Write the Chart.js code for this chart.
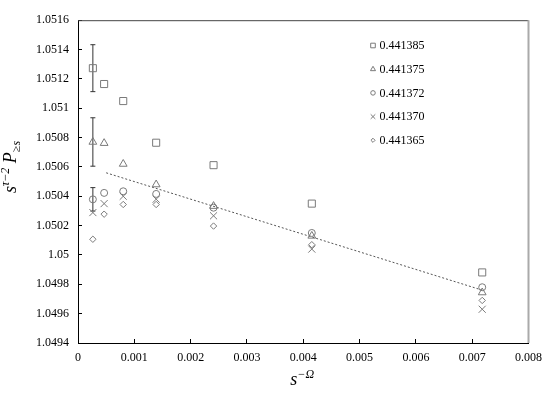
<!DOCTYPE html>
<html>
<head>
<meta charset="utf-8">
<script src="https://cdn.jsdelivr.net/npm/chart.js@4.4.0/dist/chart.umd.min.js"></script>
<style>
  html, body { margin: 0; padding: 0; background: #fff; }
</style>
</head>
<body>
<canvas id="chart" width="554" height="399"></canvas>
<script>
// values
const xValues = [0.000264, 0.000464, 0.000803, 0.001388, 0.002407, 0.004152, 0.007178];
const seriesNames = ['0.441385', '0.441375', '0.441372', '0.441370', '0.441365'];
const sq385 = [1.051273, 1.051165, 1.051049, 1.050765, 1.050612, 1.05035, 1.049881];
const tri375 = [1.05077, 1.050762, 1.05062, 1.05048, 1.050333, 1.05013, 1.049744];
const circ372 = [1.050379, 1.050423, 1.050434, 1.050416, 1.050322, 1.05015, 1.04978];
const cross370 = [1.050289, 1.05035, 1.0504, 1.05038, 1.050267, 1.05004, 1.04963];
const dia365 = [1.050107, 1.050278, 1.050344, 1.050344, 1.050197, 1.05007, 1.04969];

// error bars on the first column (center, half width)
const errX = 0.000264;
const errCenters = [1.051273, 1.05077, 1.050379];
const errHalf = [0.00016, 0.000165, 0.00008];

// dotted fit line
const fitX = [0.0005, 0.00718];
const fitY = [1.05056, 1.04976];

const xTicks = [0, 0.001, 0.002, 0.003, 0.004, 0.005, 0.006, 0.007, 0.008];
const xTickLabels = ['0', '0.001', '0.002', '0.003', '0.004', '0.005', '0.006', '0.007', '0.008'];
const yTicks = [1.0494, 1.0496, 1.0498, 1.05, 1.0502, 1.0504, 1.0506, 1.0508, 1.051, 1.0512, 1.0514, 1.0516];
const yTickLabels = ['1.0494', '1.0496', '1.0498', '1.05', '1.0502', '1.0504', '1.0506', '1.0508', '1.051', '1.0512', '1.0514', '1.0516'];

const serif = 'Liberation Serif, DejaVu Serif, serif';
const markGray = '#7a7a7a';
const styles = [
    { pointStyle: 'rect', radius: 5 },
    { pointStyle: 'triangle', radius: 4.5 },
    { pointStyle: 'circle', radius: 3.5 },
    { pointStyle: 'crossRot', radius: 5 },
    { pointStyle: 'rectRot', radius: 3.2 }
];
const allSeries = [sq385, tri375, circ372, cross370, dia365];

const datasets = [];
allSeries.forEach(function (ys, i) {
    datasets.push({
        label: seriesNames[i],
        data: xValues.map(function (x, j) { return { x: x, y: ys[j] }; }),
        showLine: false,
        pointStyle: styles[i].pointStyle,
        pointRadius: styles[i].radius,
        pointBorderColor: markGray,
        pointBackgroundColor: 'rgba(0,0,0,0)',
        pointBorderWidth: 1
    });
});

datasets.push({
    label: 'fit',
    data: fitX.map(function (x, j) { return { x: x, y: fitY[j] }; }),
    showLine: true,
    borderColor: '#555',
    borderWidth: 1,
    borderDash: [2, 2],
    pointRadius: 0
});

errCenters.forEach(function (c, i) {
    datasets.push({
        label: 'err' + i,
        data: [{ x: errX, y: c - errHalf[i] }, { x: errX, y: c + errHalf[i] }],
        showLine: true,
        borderColor: '#333',
        borderWidth: 1,
        pointStyle: 'line',
        pointRadius: 2.5,
        pointBorderColor: '#333',
        pointBorderWidth: 1
    });
});

const framePlugin = {
    id: 'frame',
    afterDraw(chart) {
        const ctx = chart.ctx;
        const a = chart.chartArea;
        ctx.save();
        ctx.strokeStyle = '#444';
        ctx.lineWidth = 1;
        ctx.beginPath();
        ctx.moveTo(a.left, a.top + 0.5);
        ctx.lineTo(a.right, a.top + 0.5);
        ctx.stroke();
        ctx.strokeStyle = '#aaa';
        ctx.lineWidth = 2;
        ctx.beginPath();
        ctx.moveTo(a.right, a.top);
        ctx.lineTo(a.right, a.bottom);
        ctx.stroke();
        ctx.restore();
    }
};

function drawPieces(ctx, pieces, cx, baseline) {
    let total = 0;
    pieces.forEach(function (p) { ctx.font = p.font; total += ctx.measureText(p.t).width; });
    let x = cx - total / 2;
    pieces.forEach(function (p) {
        ctx.font = p.font;
        ctx.fillText(p.t, x, baseline + p.dy);
        x += ctx.measureText(p.t).width;
    });
}

const labelPlugin = {
    id: 'labels',
    afterDraw(chart) {
        const ctx = chart.ctx;
        const a = chart.chartArea;
        ctx.save();
        ctx.fillStyle = '#000';
        ctx.textBaseline = 'alphabetic';
        ctx.textAlign = 'left';
        // x axis title
        drawPieces(ctx, [
            { t: 's', font: 'italic 18px ' + serif, dy: 0 },
            { t: '\u2212\u03A9', font: 'italic 12px ' + serif, dy: -7 }
        ], (a.left + a.right) / 2 - 1, 385);
        // y axis title
        ctx.translate(15.5, 167);
        ctx.rotate(-Math.PI / 2);
        drawPieces(ctx, [
            { t: 's', font: 'italic 18px ' + serif, dy: 0 },
            { t: '\u03C4\u22122', font: 'italic 12px ' + serif, dy: -7 },
            { t: ' ', font: '18px ' + serif, dy: 0 },
            { t: 'P', font: 'italic 18px ' + serif, dy: 0 },
            { t: '\u2265s', font: 'italic 12px ' + serif, dy: 4 }
        ], 0, 0);
        ctx.restore();

        // legend
        ctx.save();
        ctx.font = '12px ' + serif;
        ctx.textBaseline = 'middle';
        seriesNames.forEach(function (name, i) {
            const y = 45.5 + i * 23.7;
            ctx.strokeStyle = markGray;
            ctx.fillStyle = 'rgba(0,0,0,0)';
            ctx.lineWidth = 1;
            Chart.helpers.drawPoint(ctx, {
                pointStyle: styles[i].pointStyle,
                radius: styles[i].radius * 0.65,
                rotation: 0,
                borderWidth: 1
            }, 373, y);
            ctx.fillStyle = '#000';
            ctx.fillText(name, 379.5, y + 0.5);
        });
        ctx.restore();
    }
};

new Chart(document.getElementById('chart').getContext('2d'), {
    type: 'scatter',
    data: { datasets: datasets },
    options: {
        responsive: false,
        animation: false,
        devicePixelRatio: 1,
        layout: { padding: { top: 8, right: 20, left: 0, bottom: 0 } },
        plugins: {
            legend: { display: false },
            tooltip: { enabled: false }
        },
        scales: {
            x: {
                type: 'linear',
                min: 0,
                max: 0.008,
                afterBuildTicks: function (scale) {
                    scale.ticks = xTicks.map(function (v) { return { value: v }; });
                },
                afterFit: function (scale) { scale.height = 56; },
                ticks: {
                    autoSkip: false,
                    maxRotation: 0,
                    padding: 12,
                    color: '#000',
                    font: { family: serif, size: 12 },
                    callback: function (v, i) { return xTickLabels[i]; }
                },
                grid: { drawOnChartArea: false, tickLength: -4, color: '#000' },
                border: { color: '#000', width: 1 }
            },
            y: {
                type: 'linear',
                min: 1.0494,
                max: 1.0516,
                afterBuildTicks: function (scale) {
                    scale.ticks = yTicks.map(function (v) { return { value: v }; });
                },
                afterFit: function (scale) { scale.width = 78; },
                ticks: {
                    autoSkip: false,
                    padding: 13,
                    color: '#000',
                    font: { family: serif, size: 12 },
                    callback: function (v, i) { return yTickLabels[i]; }
                },
                grid: { drawOnChartArea: false, tickLength: -4, color: '#000' },
                border: { color: '#000', width: 1 }
            }
        }
    },
    plugins: [framePlugin, labelPlugin]
});
</script>
</body>
</html>
